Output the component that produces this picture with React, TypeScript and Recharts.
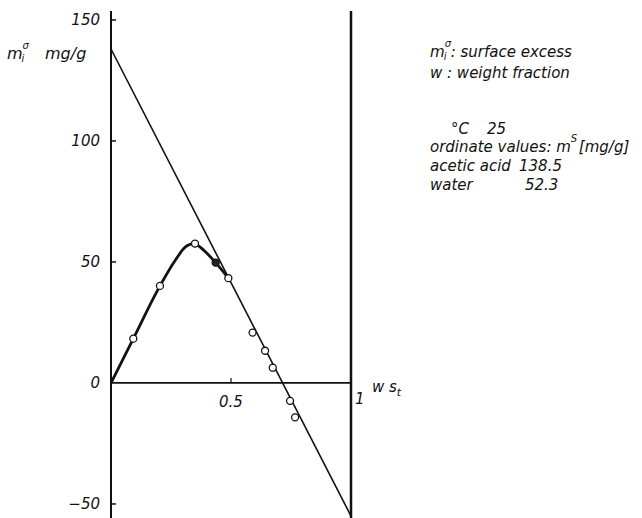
import React from "react";
import {
  ComposedChart,
  Line,
  Scatter,
  XAxis,
  YAxis,
  ReferenceLine,
} from "recharts";

// thick adsorption curve
const curve = [
  { x: 0, y: 0 },
  { x: 0.093, y: 18.3 },
  { x: 0.204, y: 40.1 },
  { x: 0.27, y: 51 },
  { x: 0.31, y: 56.2 },
  { x: 0.345, y: 57.6 },
  { x: 0.39, y: 54.5 },
  { x: 0.436, y: 49.7 },
  { x: 0.489, y: 43.3 },
];

// straight line between the two ordinate values
const straight = [
  { x: 0, y: 138 },
  { x: 1, y: -55 },
];

const openPoints = [
  { x: 0.093, y: 18.3 },
  { x: 0.204, y: 40.1 },
  { x: 0.35, y: 57.6 },
  { x: 0.489, y: 43.3 },
  { x: 0.59, y: 20.8 },
  { x: 0.642, y: 13.3 },
  { x: 0.674, y: 6.3 },
  { x: 0.746, y: -7.4 },
  { x: 0.767, y: -14.2 },
];

const filledPoints = [{ x: 0.436, y: 49.7 }];

const yTicks = [-50, 0, 50, 100, 150];

const FONT = "'DejaVu Sans', Verdana, sans-serif";

const YTick = (props: any) => {
  const { x, y, payload } = props;
  const v = payload.value;
  return (
    <g>
      <text
        x={x - 11}
        y={y}
        dy="0.36em"
        textAnchor="end"
        fontFamily={FONT}
        fontStyle="italic"
        fontSize={15}
        fill="#111"
      >
        {v < 0 ? "\u2212" + Math.abs(v) : v}
      </text>
      {v !== 0 && <line x1={x} x2={x + 5} y1={y} y2={y} stroke="#111" strokeWidth={1.5} />}
    </g>
  );
};

const OpenDot = (p: any) => (
  <circle cx={p.cx} cy={p.cy} r={3.5} fill="#fff" stroke="#111" strokeWidth={1.3} />
);
const FilledDot = (p: any) => (
  <circle cx={p.cx} cy={p.cy} r={3.5} fill="#222" stroke="#111" strokeWidth={1.3} />
);

const txt: React.CSSProperties = {
  position: "absolute",
  fontFamily: FONT,
  fontStyle: "italic",
  fontSize: 15,
  lineHeight: "15px",
  color: "#111",
  whiteSpace: "pre",
};

// stacked subscript / superscript, kept out of the line box
const SubSup = ({ sup, sub, w = 7 }: { sup: string; sub?: string; w?: number }) => (
  <span style={{ display: "inline-block", position: "relative", width: w, height: 0 }}>
    <span style={{ position: "absolute", left: 0, top: -18, fontSize: 10, lineHeight: "10px" }}>{sup}</span>
    {sub && (
      <span style={{ position: "absolute", left: -1, top: -5, fontSize: 10, lineHeight: "10px" }}>{sub}</span>
    )}
  </span>
);

export default function App() {
  return (
    <div style={{ position: "absolute", left: 0, top: 0, width: 642, height: 518, background: "#fff" }}>
      <ComposedChart
        width={642}
        height={518}
        margin={{ top: 11, right: 291, bottom: 0, left: 51 }}
      >
        <XAxis type="number" dataKey="x" domain={[0, 1]} hide />
        <YAxis
          type="number"
          domain={[-55.8, 153.7]}
          ticks={yTicks}
          width={60}
          axisLine={false}
          tickLine={false}
          tickSize={0}
          tickMargin={0}
          tick={<YTick />}
          interval={0}
        />
        <ReferenceLine x={0} stroke="#111" strokeWidth={2} />
        <ReferenceLine x={1} stroke="#111" strokeWidth={2.5} />
        <ReferenceLine
          segment={[{ x: 0, y: 0 }, { x: 1, y: 0 }]}
          stroke="#111"
          strokeWidth={1.8}
        />
        <ReferenceLine
          segment={[{ x: 0.5, y: 0 }, { x: 0.5, y: 2 }]}
          stroke="#111"
          strokeWidth={1.2}
          label={{
            value: "0.5",
            position: "bottom",
            offset: 13,
            fontFamily: FONT,
            fontStyle: "italic",
            fontSize: 15,
            fill: "#111",
          }}
        />
        <Line
          data={straight}
          dataKey="y"
          type="linear"
          stroke="#111"
          strokeWidth={1.6}
          dot={false}
          isAnimationActive={false}
        />
        <Line
          data={curve}
          dataKey="y"
          type="monotone"
          stroke="#111"
          strokeWidth={2.8}
          dot={false}
          isAnimationActive={false}
        />
        <Scatter data={openPoints} dataKey="y" shape={<OpenDot />} isAnimationActive={false} />
        <Scatter data={filledPoints} dataKey="y" shape={<FilledDot />} isAnimationActive={false} />
      </ComposedChart>

      <div style={{ ...txt, left: 355, top: 392 }}>1</div>
      <div style={{ ...txt, left: 372, top: 380 }}>
        w s<sub style={{ fontSize: 11, lineHeight: 0 }}>t</sub>
      </div>

      <div style={{ ...txt, left: 7, top: 46, fontSize: 16, lineHeight: "16px" }}>
        m<SubSup sup="σ" sub="i" w={8} />
      </div>
      <div style={{ ...txt, left: 45, top: 46, fontSize: 16, lineHeight: "16px" }}>mg/g</div>

      <div style={{ ...txt, left: 430, top: 45 }}>
        m<SubSup sup="σ" sub="i" w={6} />: surface excess
      </div>
      <div style={{ ...txt, left: 430, top: 66 }}>w : weight fraction</div>
      <div style={{ ...txt, left: 451, top: 122 }}>°C</div>
      <div style={{ ...txt, left: 487, top: 122 }}>25</div>
      <div style={{ ...txt, left: 430, top: 140 }}>
        ordinate values: m<SubSup sup="S" w={8} />[mg/g]
      </div>
      <div style={{ ...txt, left: 430, top: 159 }}>acetic acid</div>
      <div style={{ ...txt, left: 519, top: 159 }}>138.5</div>
      <div style={{ ...txt, left: 430, top: 178 }}>water</div>
      <div style={{ ...txt, left: 525, top: 178 }}>52.3</div>
    </div>
  );
}
